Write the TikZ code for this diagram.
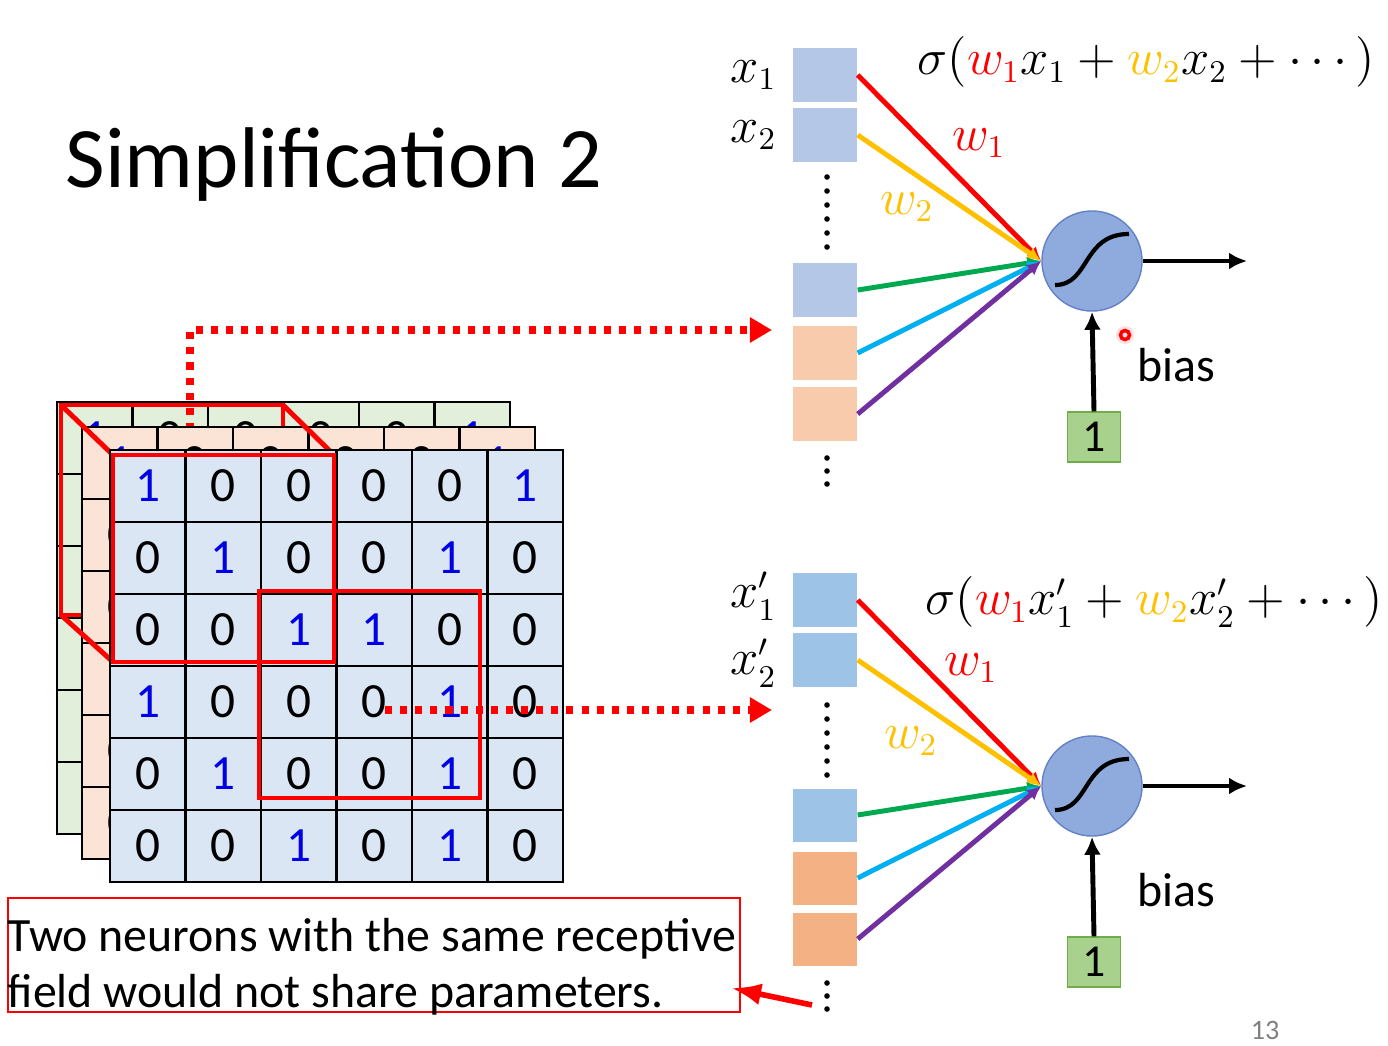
\documentclass[tikz,border=0pt]{standalone}
\usepackage{fontspec}
\setmainfont{Carlito}
\usetikzlibrary{positioning,arrows.meta}

\definecolor{cellblue}{RGB}{218,230,244}
\definecolor{cellorange}{RGB}{251,228,213}
\definecolor{cellgreen}{RGB}{226,239,218}
\definecolor{onesblue}{RGB}{0,0,230}
\definecolor{boxblue}{RGB}{180,199,231}
\definecolor{boxorange}{RGB}{248,203,173}
\definecolor{boxblueb}{RGB}{157,195,230}
\definecolor{boxorangeb}{RGB}{244,177,131}
\definecolor{neuronfill}{RGB}{143,170,220}
\definecolor{neuronline}{RGB}{100,130,200}
\definecolor{biasfill}{RGB}{169,209,142}
\definecolor{biasline}{RGB}{112,173,71}
\definecolor{wred}{RGB}{255,0,0}
\definecolor{wyellow}{RGB}{255,192,0}
\definecolor{wgreen}{RGB}{0,168,80}
\definecolor{wcyan}{RGB}{0,176,240}
\definecolor{wpurple}{RGB}{112,48,160}

\tikzset{
  cell/.style={draw, line width=0.6pt, minimum width=0.755cm, minimum height=0.72cm, inner sep=0pt, font=\fontsize{14}{14}\selectfont},
  inbox/.style={minimum width=0.64cm, minimum height=0.53cm, inner sep=0pt},
  neuron/.style={circle, draw=neuronline, fill=neuronfill, minimum size=1cm, inner sep=0pt},
  biasbox/.style={draw=biasline, fill=biasfill, minimum width=0.53cm, minimum height=0.5cm, inner sep=0pt, font=\fontsize{13}{13}\selectfont},
  weight/.style={line width=1.4pt, -{Latex[length=0.14cm,width=0.13cm]}},
  flow/.style={line width=1.4pt, -{Latex[length=0.18cm,width=0.17cm]}},
  redpath/.style={red, line width=2pt, dash pattern=on 2pt off 2.3pt, -{Triangle[length=0.22cm,width=0.24cm]}},
  receptive/.style={red, line width=1.4pt},
  mathlabel/.style={font=\fontsize{13.5}{13.5}\selectfont},
  plain/.style={font=\fontsize{13.6}{15.9}\selectfont},
}

% one 6x6 layer: left, top, fill, prefix
\newcommand{\drawlayer}[4]{%
  \foreach \row [count=\r] in {{1,0,0,0,0,1},{0,1,0,0,1,0},{0,0,1,1,0,0},{1,0,0,0,1,0},{0,1,0,0,1,0},{0,0,1,0,1,0}}{%
    \foreach \v [count=\c] in \row {%
      \ifnum\v=1 \def\dc{onesblue}\else\def\dc{black}\fi
      \node[cell, fill=#3, text=\dc] (#4-\r-\c) at ({#1+75.5*(\c-0.5)},{#2+72*(\r-0.5)}) {\v};
    }%
  }%
}

\begin{document}
\begin{tikzpicture}[x=0.01cm, y=-0.01cm, >=stealth]
\useasboundingbox (0,0) rectangle (1388,1045);

\node[anchor=base west, inner sep=0pt, font=\fontsize{24.5}{24.5}\selectfont] (title) at (65,187) {Simplification 2};

% stacked layers with receptive fields
\drawlayer{57}{402}{cellgreen}{g}
\draw[receptive] (61,405) rectangle (283,615);
\coordinate (rfa) at (190,430);
\coordinate (rfat) at (772,330);
\draw[redpath] (rfa) |- (rfat);
\drawlayer{82}{427}{cellorange}{o}
\draw[receptive] (61,405) -- (113,455) (283,405) -- (334,455) (61,615) -- (113,662);
\drawlayer{110}{450}{cellblue}{f}
\draw[receptive] (113,455) rectangle (334,662);
\draw[receptive] (259,591) rectangle (480,798);
\coordinate (rfb) at (385,710);
\coordinate (rfbt) at (772,710);
\draw[redpath] (rfb) -- (rfbt);

% upper neuron
\node[inbox, fill=boxblue] (u1) at (825,75) {};
\node[inbox, fill=boxblue] (u2) at (825,135) {};
\node[inbox, fill=boxblue] (u3) at (825,290) {};
\node[inbox, fill=boxorange] (u4) at (825,353) {};
\node[inbox, fill=boxorange] (u5) at (825,414) {};
\node[mathlabel, inner sep=0pt, left=0.15cm of u1] (ux1) {$x_1$};
\node[mathlabel, inner sep=0pt, left=0.15cm of u2] (ux2) {$x_2$};
\foreach \y in {177,191,...,247} \fill (827,\y) circle (0.028cm);
\foreach \y in {458,471,484} \fill (827,\y) circle (0.028cm);
\node[neuron] (un) at (1092,261) {};
\draw[line width=1.2pt] ([shift={(-37,24)}]un.center) .. controls ([shift={(-2,24)}]un.center) and ([shift={(-10,-27)}]un.center) .. ([shift={(37,-27)}]un.center);
\node[biasbox] (ub) at (1094,437) {1};
\node[plain, anchor=base west, inner sep=0pt] (ubias) at (1137,381) {bias};
\coordinate (uout) at (1247,261);
\draw[weight, wred] (u1.east) -- (un.west);
\draw[weight, wyellow] (u2.east) -- (un.west);
\draw[weight, wgreen] (u3.east) -- (un.west);
\draw[weight, wcyan] (u4.east) -- (un.west);
\draw[weight, wpurple] (u5.east) -- (un.west);
\draw[flow] (un.east) -- (uout);
\draw[flow] (ub.north) -- (un.south);
\node[mathlabel, text=wred] (uw1) at (979,143) {$w_1$};
\node[mathlabel, text=wyellow] (uw2) at (907,207) {$w_2$};
\node[mathlabel, anchor=west, inner sep=0pt] (uf) at (917,62) {$\sigma(\textcolor{wred}{w_1}x_1+\textcolor{wyellow}{w_2}x_2+\cdots\,)$};
\fill[red!25, opacity=0.5] (1125,335) circle (0.09cm);
\node[circle, draw=red, line width=1pt, minimum size=0.09cm, inner sep=0pt] (laser) at (1125,335) {};

% lower neuron
\node[inbox, fill=boxblueb] (l1) at (825,600) {};
\node[inbox, fill=boxblueb] (l2) at (825,660) {};
\node[inbox, fill=boxblueb] (l3) at (825,815) {};
\node[inbox, fill=boxorangeb] (l4) at (825,878) {};
\node[inbox, fill=boxorangeb] (l5) at (825,939) {};
\node[mathlabel, inner sep=0pt, left=0.15cm of l1, yshift=0.04cm] (lx1) {$x'_1$};
\node[mathlabel, inner sep=0pt, left=0.15cm of l2, yshift=-0.03cm] (lx2) {$x'_2$};
\foreach \y in {705,719,...,775} \fill (827,\y) circle (0.028cm);
\foreach \y in {983,996,1009} \fill (827,\y) circle (0.028cm);
\node[neuron] (ln) at (1092,786) {};
\draw[line width=1.2pt] ([shift={(-37,24)}]ln.center) .. controls ([shift={(-2,24)}]ln.center) and ([shift={(-10,-27)}]ln.center) .. ([shift={(37,-27)}]ln.center);
\node[biasbox] (lb) at (1094,962) {1};
\node[plain, anchor=base west, inner sep=0pt] (lbias) at (1137,906) {bias};
\coordinate (lout) at (1247,786);
\draw[weight, wred] (l1.east) -- (ln.west);
\draw[weight, wyellow] (l2.east) -- (ln.west);
\draw[weight, wgreen] (l3.east) -- (ln.west);
\draw[weight, wcyan] (l4.east) -- (ln.west);
\draw[weight, wpurple] (l5.east) -- (ln.west);
\draw[flow] (ln.east) -- (lout);
\draw[flow] (lb.north) -- (ln.south);
\node[mathlabel, text=wred] (lw1) at (971,668) {$w_1$};
\node[mathlabel, text=wyellow] (lw2) at (911,741) {$w_2$};
\node[mathlabel, anchor=west, inner sep=0pt] (lf) at (925,602) {$\sigma(\textcolor{wred}{w_1}x'_1+\textcolor{wyellow}{w_2}x'_2+\cdots\,)$};

% note
\node[draw=red, line width=0.5pt, minimum width=7.32cm, minimum height=1.14cm] (notebox) at (374,955) {};
\node[plain, align=left, inner sep=0pt] (note) at (372,967) {Two neurons with the same receptive\\field would not share parameters.};
\coordinate (ptail) at (812,1005);
\draw[red, line width=1.6pt, -{Latex[length=0.3cm,width=0.22cm]}] (ptail) -- ([shift={(-10,33)}]notebox.east);

\node[text=gray, font=\fontsize{8}{8}\selectfont] (page) at (1265,1030) {13};
\end{tikzpicture}
\end{document}
